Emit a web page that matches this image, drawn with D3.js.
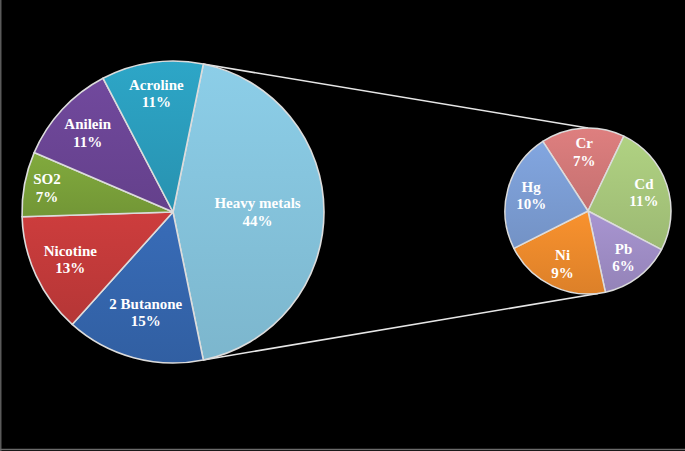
<!DOCTYPE html>
<html>
<head>
<meta charset="utf-8">
<script src="https://cdn.jsdelivr.net/npm/d3@7"></script>
<style>
  html, body { margin: 0; padding: 0; background: #000; }
  svg { display: block; }
</style>
</head>
<body>
<svg id="chart" width="685" height="451"></svg>
<script>
// ---- data ----
const mainCategories = ["Heavy metals", "2 Butanone", "Nicotine", "SO2", "Anilein", "Acroline"];
const mainValues = [44, 15, 13, 7, 11, 11];
const mainColors = ["#85c3dc", "#3566ae", "#c23a3a", "#7aa13a", "#6b4595", "#2b9dbd"];

const subCategories = ["Cr", "Cd", "Pb", "Ni", "Hg"];
const subValues = [7, 11, 6, 9, 10];
const subColors = ["#d27878", "#a7c77b", "#9f8dc6", "#ec8a2c", "#7b9dd4"];

// ---- layout ----
const W = 685, H = 451;
const big = { cx: 173, cy: 212, r: 151 };
const small = { cx: 588, cy: 211, r: 83 };
const mainLabelFactor = [0.56, 0.69, 0.75, 0.85, 0.77, 0.79];
const subLabelFactor = 0.71;
const deg = Math.PI / 180;

const svg = d3.select("#chart");
svg.append("rect").attr("width", W).attr("height", H).attr("fill", "#000");
// faint frame edges
svg.append("line").attr("x1", 0.75).attr("x2", 0.75).attr("y1", 0).attr("y2", H).attr("stroke", "#5a5a5a").attr("stroke-width", 1.5);
svg.append("line").attr("x1", 0).attr("x2", W).attr("y1", H - 1.5).attr("y2", H - 1.5).attr("stroke", "#6a6a6a").attr("stroke-width", 1.5);

const defs = svg.append("defs");
function makeGrad(id, color) {
  const g = defs.append("linearGradient").attr("id", id)
    .attr("x1", 0).attr("y1", 0).attr("x2", 0).attr("y2", 1);
  g.append("stop").attr("offset", "0%").attr("stop-color", d3.color(color).brighter(0.15));
  g.append("stop").attr("offset", "100%").attr("stop-color", d3.color(color).darker(0.2));
}
mainColors.forEach((c, i) => makeGrad("gm" + i, c));
subColors.forEach((c, i) => makeGrad("gs" + i, c));

// main pie: heavy metals centred at 3 o'clock
const mainTotal = d3.sum(mainValues);
const hmSpan = mainValues[0] / mainTotal * 2 * Math.PI;
const mainStart = Math.PI / 2 - hmSpan / 2;
const mainPie = d3.pie().sort(null).value(d => d)
  .startAngle(mainStart).endAngle(mainStart + 2 * Math.PI);
const mainArcs = mainPie(mainValues);
const arcBig = d3.arc().innerRadius(0).outerRadius(big.r);

// secondary pie
const subStart = -33 * deg;
const subPie = d3.pie().sort(null).value(d => d)
  .startAngle(subStart).endAngle(subStart + 2 * Math.PI);
const subArcs = subPie(subValues);
const arcSmall = d3.arc().innerRadius(0).outerRadius(small.r);

// connector lines
const pA = mainArcs[0].startAngle, pB = mainArcs[0].endAngle;
const lineData = [
  [[big.cx + big.r * Math.sin(pA), big.cy - big.r * Math.cos(pA)], [small.cx, small.cy - small.r]],
  [[big.cx + big.r * Math.sin(pB), big.cy - big.r * Math.cos(pB)], [small.cx + 10, small.cy + small.r - 0.5]]
];
svg.selectAll("line.conn").data(lineData).enter().append("line")
  .attr("class", "conn")
  .attr("x1", d => d[0][0]).attr("y1", d => d[0][1])
  .attr("x2", d => d[1][0]).attr("y2", d => d[1][1])
  .attr("stroke", "#e6e6e6").attr("stroke-width", 1.6);

const gBig = svg.append("g").attr("transform", `translate(${big.cx},${big.cy})`);
gBig.selectAll("path").data(mainArcs).enter().append("path")
  .attr("d", arcBig)
  .attr("fill", (d, i) => `url(#gm${i})`)
  .attr("stroke", "#dcdcdc").attr("stroke-width", 1.6).attr("stroke-linejoin", "round");

const gSmall = svg.append("g").attr("transform", `translate(${small.cx},${small.cy})`);
gSmall.selectAll("path").data(subArcs).enter().append("path")
  .attr("d", arcSmall)
  .attr("fill", (d, i) => `url(#gs${i})`)
  .attr("stroke", "#dcdcdc").attr("stroke-width", 1.5).attr("stroke-linejoin", "round");

function addLabel(g, d, name, value, rr) {
  const a = (d.startAngle + d.endAngle) / 2;
  const x = rr * Math.sin(a), y = -rr * Math.cos(a);
  const t = g.append("text")
    .attr("x", x).attr("y", y)
    .attr("text-anchor", "middle")
    .attr("font-family", "'Liberation Serif', 'Times New Roman', serif")
    .attr("font-weight", "bold")
    .attr("font-size", 15)
    .attr("fill", "#ffffff");
  t.append("tspan").attr("x", x).attr("dy", "-0.25em").text(name);
  t.append("tspan").attr("x", x).attr("dy", "1.15em").text(value + "%");
}
mainArcs.forEach((d, i) => addLabel(gBig, d, mainCategories[i], mainValues[i], big.r * mainLabelFactor[i]));
subArcs.forEach((d, i) => addLabel(gSmall, d, subCategories[i], subValues[i], small.r * subLabelFactor));
</script>
</body>
</html>
